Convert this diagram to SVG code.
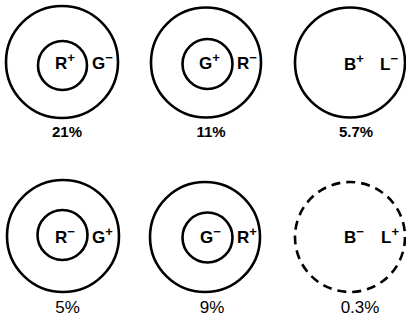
<svg xmlns="http://www.w3.org/2000/svg" width="406" height="321" viewBox="0 0 406 321">
<style>
.c{fill:none;stroke:#000;stroke-width:2.6}
.d{stroke-dasharray:9 6}
.l{font-family:"Liberation Sans",Arial,sans-serif;font-weight:bold;font-size:17px;fill:#000}
.s{font-size:13px}
.p{font-family:"Liberation Sans",Arial,sans-serif;font-weight:bold;font-size:15px;fill:#000;text-anchor:middle}
.r{font-weight:normal;font-size:17px}
</style>
<rect width="406" height="321" fill="#fff"/>
<g id="n1">
<circle class="c" cx="62" cy="62" r="56"/>
<circle class="c" cx="62.5" cy="65.5" r="24.5"/>
<text class="l" x="55" y="69">R<tspan class="s" dy="-7">+</tspan></text>
<text class="l" x="92" y="69">G<tspan class="s" dy="-7">−</tspan></text>
<text class="p" x="67" y="137">21%</text>
</g>
<g id="n2">
<circle class="c" cx="206" cy="62.5" r="55"/>
<circle class="c" cx="207.5" cy="64" r="25"/>
<text class="l" x="199" y="69">G<tspan class="s" dy="-7">+</tspan></text>
<text class="l" x="237" y="69">R<tspan class="s" dy="-7">−</tspan></text>
<text class="p" x="211" y="137">11%</text>
</g>
<g id="n3">
<circle class="c" cx="350" cy="62.5" r="55"/>
<text class="l" x="344" y="70">B<tspan class="s" dy="-7">+</tspan></text>
<text class="l" x="380" y="70">L<tspan class="s" dy="-7">−</tspan></text>
<text class="p" x="356" y="137">5.7%</text>
</g>
<g id="n4">
<circle class="c" cx="63" cy="236" r="56"/>
<circle class="c" cx="62.5" cy="235" r="25"/>
<text class="l" x="55" y="243">R<tspan class="s" dy="-7">−</tspan></text>
<text class="l" x="92" y="243">G<tspan class="s" dy="-7">+</tspan></text>
<text class="p r" x="67.5" y="313">5%</text>
</g>
<g id="n5">
<circle class="c" cx="205" cy="237" r="55"/>
<circle class="c" cx="207.5" cy="237.5" r="25"/>
<text class="l" x="200" y="243">G<tspan class="s" dy="-7">−</tspan></text>
<text class="l" x="237" y="243">R<tspan class="s" dy="-7">+</tspan></text>
<text class="p r" x="212" y="313">9%</text>
</g>
<g id="n6">
<circle class="c d" cx="350" cy="237" r="55"/>
<text class="l" x="344" y="243">B<tspan class="s" dy="-7">−</tspan></text>
<text class="l" x="381" y="243">L<tspan class="s" dy="-7">+</tspan></text>
<text class="p r" x="360" y="313">0.3%</text>
</g>
<g id="connectors"/>
</svg>
